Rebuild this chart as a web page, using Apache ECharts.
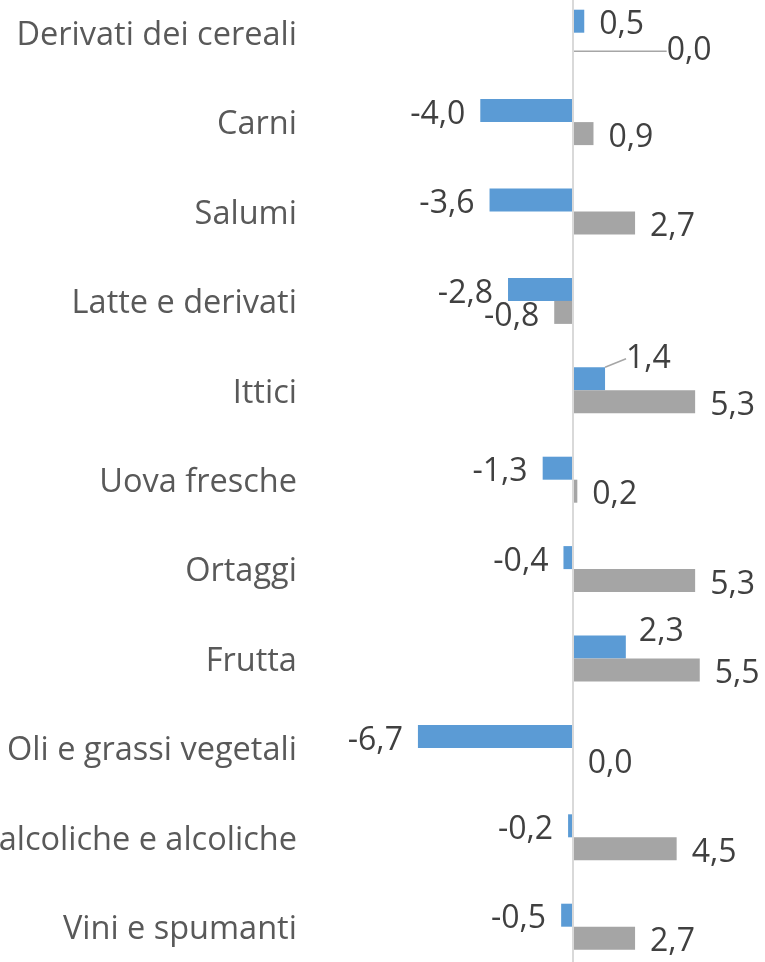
<!DOCTYPE html>
<html>
<head>
<meta charset="utf-8">
<script src="https://cdn.jsdelivr.net/npm/echarts@6/dist/echarts.min.js"></script>
<style>
  html, body { margin: 0; padding: 0; background: #fff; }
  #chart { width: 765px; height: 962px; }
</style>
</head>
<body>
<div id="chart"></div>
<script>
// dati
const categories = [
  'Derivati dei cereali', 'Carni', 'Salumi', 'Latte e derivati', 'Ittici',
  'Uova fresche', 'Ortaggi', 'Frutta', 'Oli e grassi vegetali',
  'Bevande analcoliche e alcoliche', 'Vini e spumanti'
];
const blueValues = [0.5, -4.0, -3.6, -2.8, 1.4, -1.3, -0.4, 2.3, -6.7, -0.2, -0.5];
const grayValues = [0.0, 0.9, 2.7, -0.8, 5.3, 0.2, 5.3, 5.5, 0.0, 4.5, 2.7];

// etichette spostate a mano (serie-indice) -> spostamento
const moved = {
  '0-4': { dx: 6, dy: -20, line: true },
  '0-7': { dx: -2, dy: -15, line: false },
  '1-0': { dx: 79, dy: 7, line: true }
};

function toItems(values, s) {
  return values.map((v, i) => {
    const item = {
      value: v,
      label: { position: v < 0 ? 'left' : 'right' }
    };
    const m = moved[s + '-' + i];
    if (m && m.line) item.labelLine = { show: true };
    return item;
  });
}

const fmt = (p) => p.value.toFixed(1).replace('.', ',');

const labelStyle = {
  show: true,
  distance: 15,
  fontFamily: 'Open Sans',
  fontSize: 32,
  color: '#404040',
  formatter: fmt
};
const lineStyle = { show: false, lineStyle: { color: '#a6a6a6', width: 1.5 } };

function layoutFor(s) {
  return function (params) {
    const m = moved[s + '-' + params.dataIndex];
    return m ? { dx: m.dx, dy: m.dy } : { dy: 4 };
  };
}

let myChart = echarts.init(document.getElementById('chart'));
myChart.setOption({
  backgroundColor: '#fff',
  animation: false,
  grid: {
    left: 387.9, right: 7.5, top: -12, bottom: -9.4,
    containLabel: false,
    outerBoundsMode: 'none'
  },
  xAxis: {
    type: 'value',
    min: -8,
    max: 8,
    show: false,
    splitLine: { show: false }
  },
  yAxis: {
    type: 'category',
    data: categories,
    inverse: true,
    axisLine: { show: false },
    axisTick: { show: false },
    axisLabel: {
      margin: 91,
      formatter: (v) => '{c|' + v + '}',
      rich: {
        c: {
          padding: [6, 0, 0, 0],
          fontFamily: 'Open Sans',
          fontSize: 32.5,
          color: '#595959'
        }
      }
    }
  },
  series: [
    {
      name: 'Serie 1',
      type: 'bar',
      barWidth: 23,
      barGap: '0%',
      itemStyle: { color: '#5b9bd5' },
      label: labelStyle,
      labelLine: lineStyle,
      labelLayout: layoutFor(0),
      data: toItems(blueValues, 0),
      markLine: {
        silent: true,
        symbol: 'none',
        label: { show: false },
        lineStyle: { color: '#d9d9d9', width: 2, type: 'solid' },
        data: [{ xAxis: 0 }]
      }
    },
    {
      name: 'Serie 2',
      type: 'bar',
      barWidth: 23,
      barGap: '0%',
      itemStyle: { color: '#a5a5a5' },
      label: labelStyle,
      labelLine: lineStyle,
      labelLayout: layoutFor(1),
      data: toItems(grayValues, 1)
    }
  ]
});
window.onresize = myChart.resize;
</script>
</body>
</html>
